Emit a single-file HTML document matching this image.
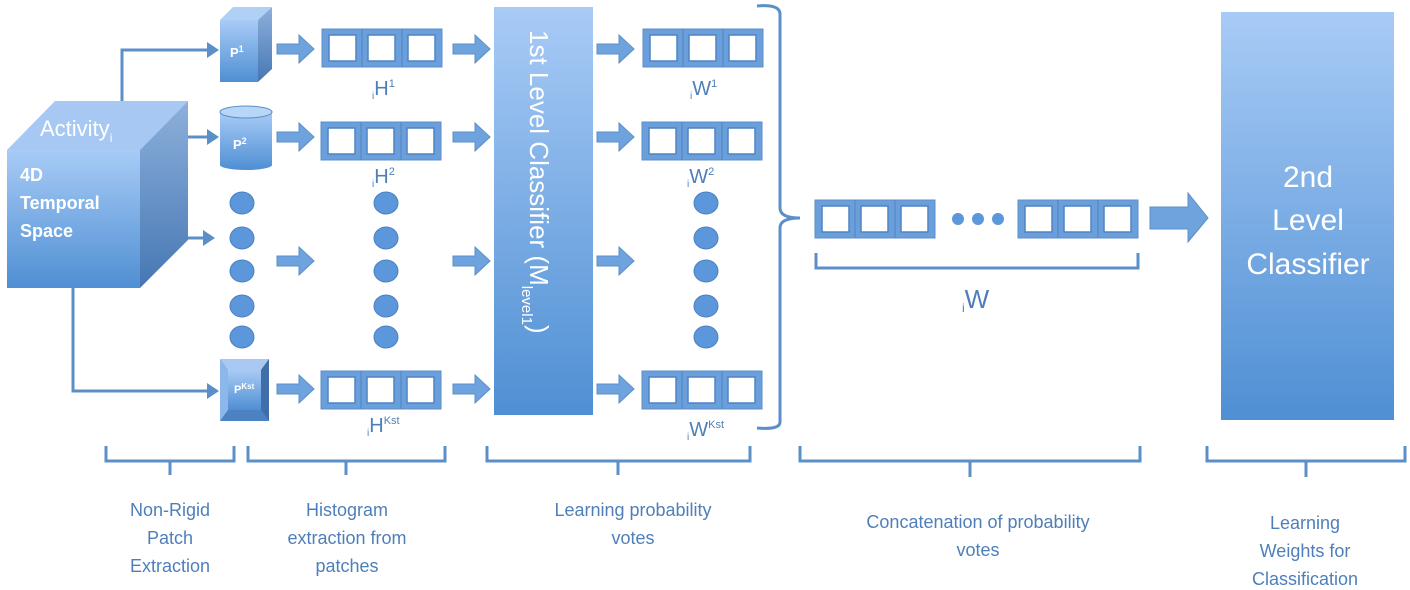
<!DOCTYPE html>
<html><head><meta charset="utf-8"><style>
html,body{margin:0;padding:0;background:#fff;width:1410px;height:590px;overflow:hidden}
text{font-family:"Liberation Sans",sans-serif}
</style></head><body>
<svg width="1410" height="590" viewBox="0 0 1410 590" xmlns="http://www.w3.org/2000/svg">
<defs>
<linearGradient id="g" x1="0" y1="0" x2="0" y2="1"><stop offset="0" stop-color="#a8cbf6"/><stop offset="1" stop-color="#4f8fd3"/></linearGradient>
<linearGradient id="gs" x1="0" y1="0" x2="0" y2="1"><stop offset="0" stop-color="#8db0dc"/><stop offset="1" stop-color="#4677b3"/></linearGradient>
<g id="tri">
<rect x="0" y="0" width="120" height="38" fill="#6a9fdb" stroke="#5b8fc8"/>
<rect x="7" y="6" width="27" height="26" fill="#fff" stroke="#4f84c2" stroke-width="1.5"/>
<rect x="46" y="6" width="27" height="26" fill="#fff" stroke="#4f84c2" stroke-width="1.5"/>
<rect x="86" y="6" width="27" height="26" fill="#fff" stroke="#4f84c2" stroke-width="1.5"/>
<line x1="40" y1="0" x2="40" y2="38" stroke="#4f84c2"/><line x1="80" y1="0" x2="80" y2="38" stroke="#4f84c2"/>
</g>
<path id="ar" d="M0,9 H22 V0 L37,14 L22,28 V19 H0 Z" fill="#6fa3de" stroke="#5b8fc8"/>
<ellipse id="dot" cx="0" cy="0" rx="12" ry="11" fill="#5d97db" stroke="#4a80c0"/>
</defs>

<polygon points="7,150 55,101 188,101 140,150" fill="#a6c8f2"/>
<polygon points="140,150 188,101 188,240 140,288" fill="url(#gs)"/>
<rect x="7" y="150" width="133" height="138" fill="url(#g)"/>
<text x="40" y="136" font-size="22" fill="#fff">Activity<tspan font-size="12" dy="6">i</tspan></text>
<text x="20" y="181" font-size="18" font-weight="bold" fill="#fff">4D</text>
<text x="20" y="209" font-size="18" font-weight="bold" fill="#fff">Temporal</text>
<text x="20" y="237" font-size="18" font-weight="bold" fill="#fff">Space</text>

<g stroke="#5b8fc8" stroke-width="3" fill="none">
<polyline points="122,101 122,50 208,50"/>
<line x1="188" y1="137" x2="208" y2="137"/>
<line x1="188" y1="238" x2="204" y2="238"/>
<polyline points="73,288 73,391 208,391"/>
</g>
<g fill="#5b8fc8">
<polygon points="207,42 219,50 207,58"/>
<polygon points="207,129 219,137 207,145"/>
<polygon points="203,230 215,238 203,246"/>
<polygon points="207,383 219,391 207,399"/>
</g>

<polygon points="220,20 233,7 272,7 258,20" fill="#b0d0f5"/>
<polygon points="258,20 272,7 272,69 258,82" fill="url(#gs)"/>
<rect x="220" y="20" width="38" height="62" fill="url(#g)"/>
<text x="230" y="57" font-size="13" font-weight="bold" fill="#fff">P<tspan font-size="9" dy="-5">1</tspan></text>
<path d="M220,112 V165 A26,5 0 0 0 272,165 V112 Z" fill="url(#g)"/>
<ellipse cx="246" cy="112" rx="26" ry="6" fill="#b8d6f8" stroke="#5b8fc8"/>
<text x="233" y="149" font-size="13" font-weight="bold" fill="#fff">P<tspan font-size="9" dy="-5">2</tspan></text>
<rect x="220" y="359" width="49" height="62" fill="#5b8fc8"/>
<polygon points="220,359 269,359 261,370 228,370" fill="#a9c9f2"/>
<polygon points="220,359 228,370 228,410 220,421" fill="#8db7ea"/>
<polygon points="269,359 261,370 261,410 269,421" fill="#3f6ea8"/>
<polygon points="220,421 228,410 261,410 269,421" fill="#4c82c2"/>
<rect x="228" y="370" width="33" height="40" fill="url(#g)"/>
<text x="234" y="393" font-size="11" font-weight="bold" fill="#fff">P<tspan font-size="8" dy="-4">Kst</tspan></text>

<use href="#dot" x="242" y="203"/><use href="#dot" x="242" y="238"/><use href="#dot" x="242" y="271"/><use href="#dot" x="242" y="306"/><use href="#dot" x="242" y="337"/>
<use href="#dot" x="386" y="203"/><use href="#dot" x="386" y="238"/><use href="#dot" x="386" y="271"/><use href="#dot" x="386" y="306"/><use href="#dot" x="386" y="337"/>
<use href="#dot" x="706" y="203"/><use href="#dot" x="706" y="238"/><use href="#dot" x="706" y="271"/><use href="#dot" x="706" y="306"/><use href="#dot" x="706" y="337"/>

<use href="#ar" x="277" y="35"/><use href="#ar" x="277" y="123"/><use href="#ar" x="277" y="247"/><use href="#ar" x="277" y="375"/>
<use href="#ar" x="453" y="35"/><use href="#ar" x="453" y="123"/><use href="#ar" x="453" y="247"/><use href="#ar" x="453" y="375"/>
<use href="#ar" x="597" y="35"/><use href="#ar" x="597" y="123"/><use href="#ar" x="597" y="247"/><use href="#ar" x="597" y="375"/>

<use href="#tri" x="322" y="29"/><use href="#tri" x="321" y="122"/><use href="#tri" x="321" y="371"/>
<g fill="#4e7fba" font-size="20">
<text x="372" y="95"><tspan font-size="10" dy="4">i</tspan><tspan dy="-4">H</tspan><tspan font-size="11" dy="-8">1</tspan></text>
<text x="372" y="183"><tspan font-size="10" dy="4">i</tspan><tspan dy="-4">H</tspan><tspan font-size="11" dy="-8">2</tspan></text>
<text x="367" y="432"><tspan font-size="10" dy="4">i</tspan><tspan dy="-4">H</tspan><tspan font-size="11" dy="-8">Kst</tspan></text>
<text x="690" y="95"><tspan font-size="10" dy="4">i</tspan><tspan dy="-4">W</tspan><tspan font-size="11" dy="-8">1</tspan></text>
<text x="687" y="183"><tspan font-size="10" dy="4">i</tspan><tspan dy="-4">W</tspan><tspan font-size="11" dy="-8">2</tspan></text>
<text x="687" y="436"><tspan font-size="10" dy="4">i</tspan><tspan dy="-4">W</tspan><tspan font-size="11" dy="-8">Kst</tspan></text>
<text x="962" y="308" font-size="26"><tspan font-size="12" dy="4">i</tspan><tspan dy="-4">W</tspan></text>
</g>

<rect x="494" y="7" width="99" height="408" fill="url(#g)"/>
<text transform="translate(530,30) rotate(90)" font-size="26" fill="#fff">1st Level Classifier (M<tspan font-size="15" dy="8">level1</tspan><tspan dy="-8">)</tspan></text>

<use href="#tri" x="643" y="29"/><use href="#tri" x="642" y="122"/><use href="#tri" x="642" y="371"/>

<path d="M757,6 Q780,4 780,14 V208 Q780,218 800,218 Q780,218 780,228 V422 Q780,430 757,428" fill="none" stroke="#5b8fc8" stroke-width="3"/>

<use href="#tri" x="815" y="200"/><use href="#tri" x="1018" y="200"/>
<circle cx="958" cy="219" r="6" fill="#5d97db"/><circle cx="978" cy="219" r="6" fill="#5d97db"/><circle cx="998" cy="219" r="6" fill="#5d97db"/>
<path d="M1150,207 H1188 V193 L1208,218 L1188,242 V229 H1150 Z" fill="#6fa3de" stroke="#5b8fc8"/>
<path d="M816,253 V268 H1138 V253" fill="none" stroke="#5b8fc8" stroke-width="3"/>

<rect x="1221" y="12" width="173" height="408" fill="url(#g)"/>
<g fill="#fff" font-size="30" text-anchor="middle">
<text x="1308" y="187">2nd</text><text x="1308" y="230">Level</text><text x="1308" y="274">Classifier</text>
</g>

<g fill="none" stroke="#5b8fc8" stroke-width="3">
<path d="M106,446 V461 H234 V446 M170,461 V475"/>
<path d="M248,446 V461 H445 V446 M346,461 V475"/>
<path d="M487,446 V461 H750 V446 M618,461 V475"/>
<path d="M800,446 V461 H1140 V446 M970,461 V477"/>
<path d="M1207,446 V461 H1405 V446 M1306,461 V477"/>
</g>

<g fill="#4e7fba" font-size="18" text-anchor="middle">
<text x="170" y="516">Non-Rigid</text><text x="170" y="544">Patch</text><text x="170" y="572">Extraction</text>
<text x="347" y="516">Histogram</text><text x="347" y="544">extraction from</text><text x="347" y="572">patches</text>
<text x="633" y="516">Learning probability</text><text x="633" y="544">votes</text>
<text x="978" y="528">Concatenation of probability</text><text x="978" y="556">votes</text>
<text x="1305" y="529">Learning</text><text x="1305" y="557">Weights for</text><text x="1305" y="585">Classification</text>
</g>
</svg>
</body></html>
